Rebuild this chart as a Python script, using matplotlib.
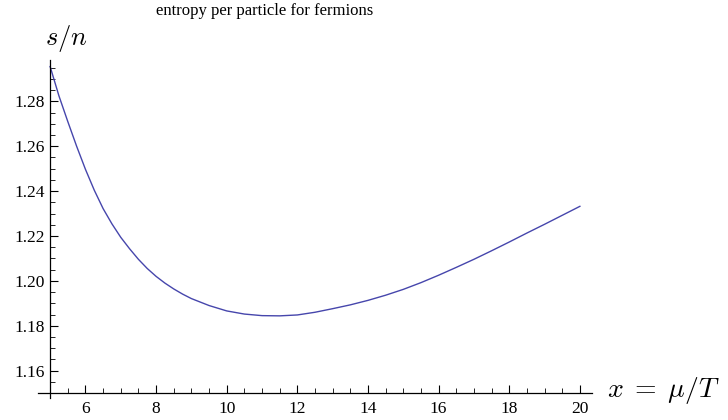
import matplotlib
matplotlib.use("Agg")
import matplotlib.pyplot as plt
from matplotlib.ticker import MultipleLocator, FixedLocator

# values
mu_over_T = [5.0, 5.25, 5.5, 5.75, 6.0, 6.25, 6.5, 6.75, 7.0, 7.25, 7.5, 7.75,
             8.0, 8.25, 8.5, 8.75, 9.0, 9.5, 10.0, 10.5, 11.0, 11.5, 12.0,
             12.5, 13.0, 13.5, 14.0, 14.5, 15.0, 15.5, 16.0, 16.5, 17.0, 17.5,
             18.0, 18.5, 19.0, 19.5, 20.0]
s_per_n = [1.2955, 1.2824, 1.2710, 1.2600, 1.2497, 1.2404, 1.2322, 1.2254,
           1.2194, 1.2143, 1.2096, 1.2055, 1.2020, 1.1990, 1.1964, 1.1941,
           1.1921, 1.1890, 1.1866, 1.1852, 1.1845, 1.1844, 1.1848, 1.1860,
           1.1876, 1.1893, 1.1913, 1.1936, 1.1962, 1.1992, 1.2025, 1.2060,
           1.2096, 1.2134, 1.2173, 1.2213, 1.2252, 1.2292, 1.2332]

x_ticks = [6, 8, 10, 12, 14, 16, 18, 20]
y_ticks = [1.16, 1.18, 1.20, 1.22, 1.24, 1.26, 1.28]

plt.rcParams["font.family"] = ["Liberation Serif", "DejaVu Serif"]
plt.rcParams["mathtext.fontset"] = "cm"

fig = plt.figure(figsize=(7.28, 4.2), dpi=100)
ax = fig.add_axes([38 / 728, 22 / 420, 554 / 728, 338 / 420])

ax.plot(mu_over_T, s_per_n, color="#4646ac", lw=1.0)

ax.set_xlim(4.657, 20.343)
ax.set_ylim(1.1478, 1.2984)

# Mathematica-style axes crossing at (5, 1.15)
ax.spines["top"].set_visible(False)
ax.spines["right"].set_visible(False)
ax.spines["left"].set_position(("data", 5))
ax.spines["bottom"].set_position(("data", 1.15))
for s in ("left", "bottom"):
    ax.spines[s].set_linewidth(0.9)

ax.xaxis.set_major_locator(FixedLocator(x_ticks))
ax.xaxis.set_minor_locator(MultipleLocator(0.5))
ax.yaxis.set_major_locator(FixedLocator(y_ticks))
ax.yaxis.set_minor_locator(MultipleLocator(0.005))
ax.set_xticklabels([str(t) for t in x_ticks])
ax.set_yticklabels([f"{t:.2f}" for t in y_ticks])
ax.tick_params(which="major", direction="in", length=6, width=0.8,
               labelsize=12.5, pad=4)
ax.tick_params(which="minor", direction="in", length=3.5, width=0.6)
ax.tick_params(axis="x", which="major", pad=6)

fig.text(265 / 728, 1 - 11 / 420, "entropy per particle for fermions",
         ha="center", va="center", fontsize=12)
fig.text(45 / 728, 1 - 38 / 420, r"$s/n$", ha="left", va="center",
         fontsize=19)
fig.text(607 / 728, 1 - 390 / 420, r"$x\;=\;\mu/T$", ha="left", va="center",
         fontsize=20)

plt.savefig("out.png", dpi=100)
